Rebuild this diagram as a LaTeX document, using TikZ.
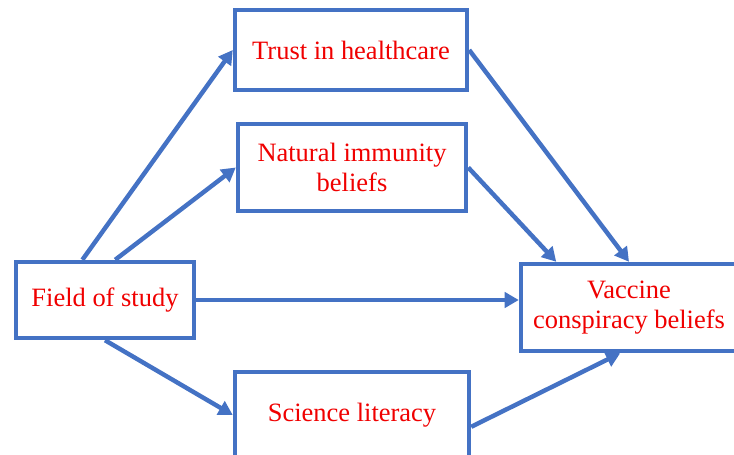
\documentclass[tikz,border=0pt]{standalone}
\usepackage{fontspec}
\setmainfont{Liberation Serif}
\usepackage{xcolor}
\usepackage{tikz}
\usetikzlibrary{arrows.meta}
\usetikzlibrary{calc}
\definecolor{boxBlue}{HTML}{4472C4}
\definecolor{labelRed}{HTML}{F00000}

\begin{document}
\begin{tikzpicture}[x=0.03cm, y=-0.03cm,
    varbox/.style={draw=boxBlue, line width=3.8pt, fill=white, align=center,
        text=labelRed, font=\fontsize{22.6}{25.5}\selectfont, inner sep=0pt},
    path/.style={draw=boxBlue, line width=3.8pt, -{Triangle[length=12pt,width=13pt]}}]
    \useasboundingbox (0,0) rectangle (734,455);
    \clip (0,0) rectangle (734,455);

    % draw nodes
    \node[varbox, minimum width=6.96cm, minimum height=2.4cm] (trust) at (351,50) {Trust in healthcare};
    \node[varbox, minimum width=6.84cm, minimum height=2.61cm] (natural) at (352,167.5) {Natural immunity\\beliefs};
    \node[varbox, minimum width=5.34cm, minimum height=2.28cm] (field) at (105,300) {Field of study};
    \node[varbox, minimum width=7.02cm, minimum height=2.58cm] (science) at (352,415) {Science literacy};
    \node[varbox, minimum width=6.48cm, minimum height=2.61cm] (vaccine) at (629,307.5) {Vaccine\\conspiracy beliefs};

    % draw paths
    \draw[path] ($(field.north west)!.376!(field.north east)$) -- (trust.west);
    \draw[path] ($(field.north west)!.556!(field.north east)$) -- (natural.west);
    \draw[path] (field.east) -- (field.east -| vaccine.west);
    \draw[path] (field.south) -- (science.west);
    \draw[path] (trust.east) -- (vaccine.north);
    \draw[path] (natural.east) -- ($(vaccine.north west)!.17!(vaccine.north east)$);
    \draw[path] ($(science.north east)!.63!(science.south east)$) -- ($(vaccine.south west)!.46!(vaccine.south east)$);
\end{tikzpicture}
\end{document}
